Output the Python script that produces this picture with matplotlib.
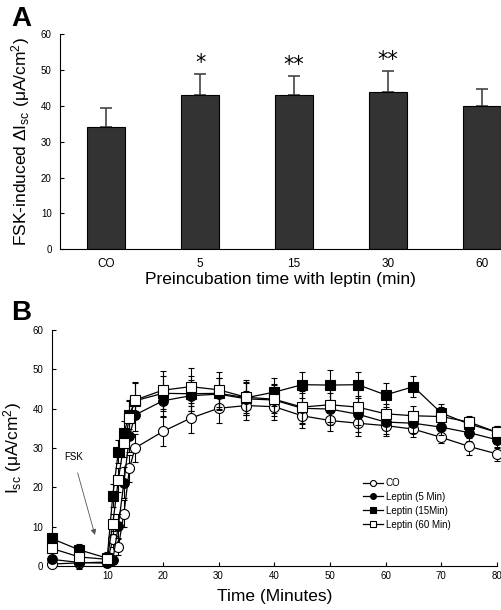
import matplotlib
matplotlib.use("Agg")
import matplotlib.pyplot as plt
import numpy as np

plt.rcParams['font.family'] = ['Liberation Sans', 'DejaVu Sans']
plt.rcParams['mathtext.fontset'] = 'custom'
plt.rcParams['mathtext.rm'] = 'Liberation Sans'
plt.rcParams['mathtext.it'] = 'Liberation Sans'

# ---- Panel A data ----
bar_labels = ["CO", "5", "15", "30", "60"]
bar_values = [34, 43, 43, 44, 40]
bar_errors = [5.4, 6.0, 5.3, 5.7, 4.7]
bar_stars = ["", "*", "**", "**", ""]

# ---- Panel B data ----
times = [0, 5, 10, 11, 12, 13, 14, 15, 20, 25, 30, 35, 40, 45, 50, 55, 60, 65, 70, 75, 80]
co_vals = [0.5, 0.8, 1.0, 6.8, 4.8, 13.3, 24.8, 30.0, 34.2, 37.6, 40.1, 40.8, 40.5, 38.2, 37.0, 36.3, 35.7, 34.8, 32.7, 30.4, 28.5]
co_err = [0.5, 1.5, 1.0, 2.0, 2.0, 3.5, 3.5, 3.5, 3.7, 3.8, 3.7, 3.6, 3.5, 3.2, 2.8, 3.2, 2.6, 1.9, 1.5, 2.2, 1.8]
lep5_vals = [1.7, 0.9, 0.7, 1.5, 10.2, 21.2, 33.0, 38.4, 42.0, 43.3, 43.7, 42.5, 42.2, 40.1, 39.9, 38.6, 36.6, 36.3, 35.3, 33.9, 32.1]
lep5_err = [1.0, 1.5, 1.0, 1.0, 3.0, 4.0, 4.0, 4.0, 3.8, 4.0, 4.0, 4.0, 4.0, 4.0, 4.0, 4.5, 3.0, 2.5, 2.0, 2.0, 2.0]
lep15_vals = [7.0, 4.1, 2.0, 17.9, 29.1, 33.9, 38.4, 42.0, 43.9, 43.8, 43.9, 42.8, 44.2, 46.1, 46.0, 46.1, 43.5, 45.6, 38.9, 36.1, 34.0]
lep15_err = [1.0, 1.5, 1.5, 3.0, 3.0, 3.0, 3.5, 4.5, 4.5, 4.5, 4.0, 4.0, 3.5, 3.3, 3.9, 3.3, 3.0, 2.6, 2.3, 1.5, 1.7]
lep60_vals = [4.5, 2.3, 1.7, 10.7, 21.9, 31.2, 37.6, 42.2, 44.7, 45.6, 44.8, 42.9, 42.4, 40.4, 41.0, 40.4, 38.7, 38.2, 38.0, 36.6, 34.0]
lep60_err = [1.0, 1.5, 1.0, 2.5, 3.0, 3.5, 4.5, 4.7, 4.8, 4.8, 4.5, 4.5, 3.5, 4.0, 4.5, 4.5, 2.5, 2.5, 2.5, 1.5, 1.5]
series_labels = ["CO", "Leptin (5 Min)", "Leptin (15Min)", "Leptin (60 Min)"]

fig = plt.figure(figsize=(5.02, 6.10), dpi=100)

# ---------------- Panel A ----------------
axA = fig.add_axes([0.1195, 0.5913, 0.8785, 0.3525])
x = np.arange(len(bar_labels))
axA.bar(x, bar_values, width=0.4, color='#333333', edgecolor='black', linewidth=0.8, zorder=2)
axA.errorbar(x, bar_values, yerr=[np.zeros(len(bar_errors)), bar_errors], fmt='none',
             ecolor='#444444', elinewidth=1.2, capsize=4.5, capthick=1.2, zorder=1)
for xi, v, e, s in zip(x, bar_values, bar_errors, bar_stars):
    if s:
        axA.text(xi, v + e + 0.3, s, ha='center', va='bottom', fontsize=15, family='DejaVu Sans')
axA.set_xlim(-0.49, 4.2)
axA.set_ylim(0, 60)
axA.set_yticks(range(0, 61, 10))
axA.set_xticks(x)
axA.set_xticklabels(bar_labels, fontsize=8.5)
axA.tick_params(axis='y', direction='in', length=3, labelsize=7, pad=6)
axA.tick_params(axis='x', length=0, pad=6)
axA.spines['top'].set_visible(False)
axA.spines['right'].set_visible(False)
axA.set_ylabel(r"FSK-induced $\Delta$I$_{\mathrm{sc}}$ (μA/cm$^{2}$)", fontsize=12.5, labelpad=6)
axA.set_xlabel("Preincubation time with leptin (min)", fontsize=12.5, labelpad=2)
fig.text(0.022, 0.99, "A", fontsize=20, fontweight='bold', va='top', ha='left')

# ---------------- Panel B ----------------
axB = fig.add_axes([0.1026, 0.0721, 0.8874, 0.3869])
styles = [
    dict(marker='o', mfc='white', mec='black', ms=7.2),
    dict(marker='o', mfc='black', mec='black', ms=7.0),
    dict(marker='s', mfc='black', mec='black', ms=6.8),
    dict(marker='s', mfc='white', mec='black', ms=6.5),
]
data = [(co_vals, co_err), (lep5_vals, lep5_err), (lep15_vals, lep15_err), (lep60_vals, lep60_err)]
handles = []
for i, ((vals, errs), st, lab) in enumerate(zip(data, styles, series_labels)):
    axB.errorbar(times, vals, yerr=errs, fmt='none', ecolor='black', elinewidth=0.8,
                 capsize=2.2, capthick=0.8, zorder=3 + i, clip_on=False)
    ln, = axB.plot(times, vals, color='black', lw=0.9, mew=0.8, label=lab, zorder=3 + i,
                   clip_on=False, **st)
    handles.append(ln)
axB.set_xlim(0, 80)
axB.set_ylim(0, 60)
axB.set_xticks(range(10, 81, 10))
axB.set_yticks(range(0, 61, 10))
axB.tick_params(axis='both', direction='in', length=3, labelsize=7)
axB.tick_params(axis='y', pad=6)
axB.spines['top'].set_visible(False)
axB.spines['right'].set_visible(False)
axB.set_ylabel(r"I$_{\mathrm{sc}}$ (μA/cm$^{2}$)", fontsize=12.5, labelpad=6)
axB.set_xlabel("Time (Minutes)", fontsize=12.5, labelpad=6)
axB.annotate("FSK", xy=(7.8, 7.9), xytext=(3.9, 27.7), fontsize=7, ha='center', va='center',
             arrowprops=dict(arrowstyle='-|>', color='#555555', lw=0.6, mutation_scale=8,
                             shrinkA=6, shrinkB=0))
leg = axB.legend(handles=handles, loc='upper left', bbox_to_anchor=(0.68, 0.41), frameon=False,
                 fontsize=7, handlelength=2.0, handletextpad=0.3, labelspacing=0.4, markerscale=0.6)
fig.text(0.022, 0.508, "B", fontsize=20, fontweight='bold', va='top', ha='left')

fig.savefig("out.png", dpi=100)
